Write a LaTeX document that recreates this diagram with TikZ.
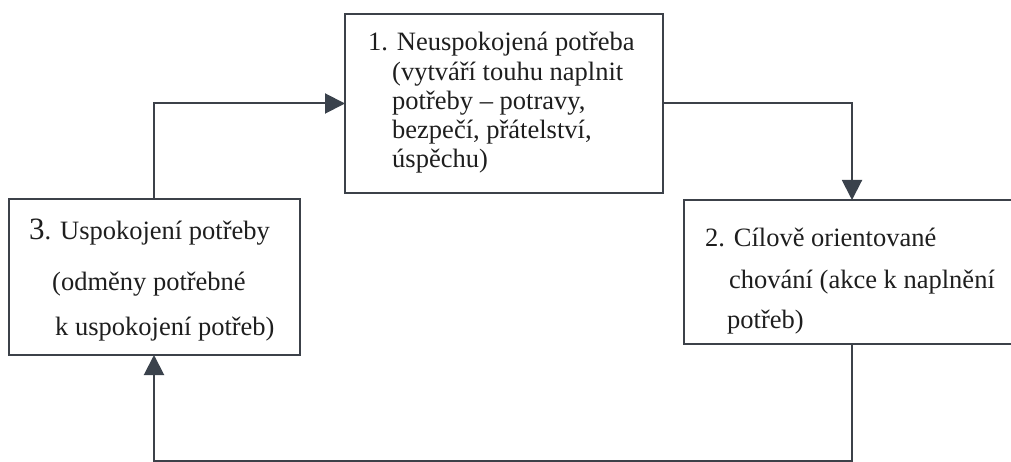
\documentclass[tikz,border=0pt]{standalone}
\usepackage{fontspec}
\setmainfont{Liberation Serif}
\usetikzlibrary{arrows.meta}
\definecolor{linec}{HTML}{3C4149}
\definecolor{tipc}{HTML}{3A424C}
\definecolor{textc}{HTML}{1E1E1E}
\begin{document}
\begin{tikzpicture}[x=1pt,y=-1pt,
  box/.style={draw=linec, line width=2pt, rectangle, inner sep=0pt, outer sep=0pt},
  conn/.style={draw=linec, line width=2pt},
  arr/.style={conn, -{Triangle[length=20pt,width=20pt,fill=tipc,color=tipc]}},
  txt/.style={inner sep=0pt, anchor=base west, text=textc, font=\fontsize{26.5}{29}\selectfont}]
\clip (0,0) rectangle (1011,462);
\fill[white] (0,0) rectangle (1011,462);
% boxes
\node[box, minimum width=318pt, minimum height=179pt] (b1) at (504,103.5) {};
\node[box, minimum width=336pt, minimum height=144pt] (b2) at (852,272) {};
\node[box, minimum width=291pt, minimum height=156pt] (b3) at (154,277) {};
% texts box 1
\node[txt] (t1a) at (368,51) {1. Neuspokojená potřeba};
\node[txt] (t1b) at (392,81) {(vytváří touhu naplnit};
\node[txt] (t1c) at (392,110) {potřeby – potravy,};
\node[txt] (t1d) at (392,139) {bezpečí, přátelství,};
\node[txt] (t1e) at (392,168) {úspěchu)};
% texts box 2
\node[txt] (t2a) at (705,247) {2. Cílově orientované};
\node[txt] (t2b) at (729,288) {chování (akce k naplnění};
\node[txt] (t2c) at (727,328) {potřeb)};
% texts box 3
\node[txt] (t3a) at (29,240) {{\fontsize{31}{31}\selectfont 3}. Uspokojení potřeby};
\node[txt] (t3b) at (52,290) {(odměny potřebné};
\node[txt] (t3c) at (55,335) {k uspokojení potřeb)};
% connectors
\coordinate (cb) at (852,460.5);
\draw[arr] (b3.north) |- (b1.west);
\draw[arr] (b1.east) -| (b2.north);
\draw[arr] (b2.south) -- (cb) -| (b3.south);
\end{tikzpicture}
\end{document}
